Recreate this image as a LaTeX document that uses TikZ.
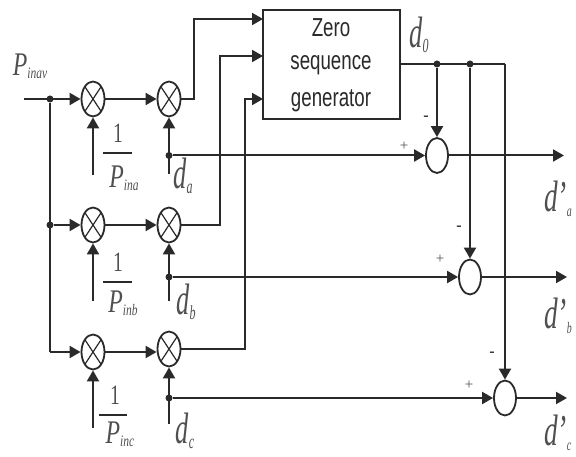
\documentclass[tikz,border=0pt]{standalone}
\usepackage{fontspec}
\setmainfont{Liberation Serif}
\newfontfamily\boxfont{Liberation Sans}
\usetikzlibrary{shapes.geometric,arrows.meta,calc}
\definecolor{ink}{HTML}{2A2A2A}
\definecolor{soft}{HTML}{505050}
\newcommand{\symb}[5]{\scalebox{#1}[1]{\fontsize{#2}{#2}\selectfont\itshape #3\raisebox{-.1em}{\fontsize{#4}{#4}\selectfont #5}}}
\tikzset{
  wire/.style={draw=ink,line width=2pt},
  arr/.style={wire,-{Triangle[length=11pt,width=12pt]}},
  mult/.style={ellipse,draw=ink,line width=1.8pt,minimum width=23pt,minimum height=35pt,inner sep=0pt,fill=white,
    path picture={\draw[ink,line width=1.2pt] (path picture bounding box.north west)--(path picture bounding box.south east)
      (path picture bounding box.north east)--(path picture bounding box.south west);}},
  summer/.style={ellipse,draw=ink,line width=1.8pt,minimum width=22pt,minimum height=35pt,inner sep=0pt,fill=white},
  dotn/.style={circle,fill=ink,inner sep=0pt,minimum size=7pt},
  lab/.style={inner sep=0pt,text=soft},
  blockbox/.style={draw=ink,line width=2pt,fill=white},
  boxtxt/.style={inner sep=0pt,text=ink,font=\boxfont},
  sign/.style={inner sep=0pt,text=soft,font=\fontsize{15}{15}\selectfont},
  minus/.style={inner sep=0pt,text=ink,font=\bfseries\fontsize{16}{16}\selectfont},
  barl/.style={draw=ink,line width=2pt}
}
\begin{document}
\begin{tikzpicture}[x=1pt,y=-1pt]
\useasboundingbox (0,0) rectangle (576,457);
% multipliers
\node[mult] (m1a) at (93,99) {};
\node[mult] (m2a) at (169,99) {};
\node[mult] (m1b) at (93,225) {};
\node[mult] (m2b) at (169,225) {};
\node[mult] (m1c) at (93,352) {};
\node[mult] (m2c) at (169,349) {};
% block
\node[blockbox,minimum width=137pt,minimum height=109pt,inner sep=0pt] (zero) at (331.5,64.5) {};
\node[boxtxt] (t1) at (331,28) {\scalebox{.72}[1]{\fontsize{26}{26}\selectfont Zero}};
\node[boxtxt] (t2) at (331,65) {\scalebox{.72}[1]{\fontsize{26}{26}\selectfont sequence}};
\node[boxtxt] (t3) at (331,101) {\scalebox{.72}[1]{\fontsize{26}{26}\selectfont generator}};
% summers
\node[summer] (sa) at (437,155.5) {};
\node[summer] (sb) at (470,277) {};
\node[summer] (sc) at (505,398) {};
% junctions and free ends
\coordinate (pin) at (24,99);
\node[dotn] (jp1) at (50,99) {};
\node[dotn] (jp2) at (50,225) {};
\coordinate (jp3) at (50,352);
\node[dotn] (jda) at (169,155.5) {};
\node[dotn] (jdb) at (169,277) {};
\node[dotn] (jdc) at (169,398) {};
\node[dotn] (j0a) at (437,64) {};
\node[dotn] (j0b) at (470,64) {};
\coordinate (j0c) at (505,64);
\coordinate (ia) at (93,175);
\coordinate (ib) at (93,301);
\coordinate (ic) at (93,428);
\coordinate (da) at (169,174);
\coordinate (db) at (169,301);
\coordinate (dc) at (169,424);
\coordinate (oa) at (564,155.5);
\coordinate (ob) at (567,277);
\coordinate (oc) at (567,398);
\coordinate (ta) at (263,19);
\coordinate (tb) at (263,56);
\coordinate (tc) at (263,99);
\coordinate (ra) at (194,99);
\coordinate (rb) at (220,225);
\coordinate (rc) at (245,349);
% connectors
\draw[arr] (pin) -- (m1a);
\draw[wire] (jp1) -- (jp3);
\draw[arr] (jp2) -- (m1b.west);
\draw[arr] (jp3) -- (m1c.west);
\draw[arr] (m1a) -- (m2a);
\draw[arr] (m1b) -- (m2b);
\draw[arr] (m1c.east) -- (m2c.west |- m1c.east);
\draw[arr] (ia) -- (m1a.south);
\draw[arr] (ib) -- (m1b.south);
\draw[arr] (ic) -- (m1c.south);
\draw[arr] (da) -- (m2a.south);
\draw[arr] (db) -- (m2b.south);
\draw[arr] (dc) -- (m2c.south);
\draw[arr] (m2a.east) -- (ra) -- (ra |- ta) -- (ta);
\draw[arr] (m2b.east) -- (rb) -- (rb |- tb) -- (tb);
\draw[arr] (m2c.east) -- (rc) -- (rc |- tc) -- (tc);
\draw[arr] (jda) -- (sa.west);
\draw[arr] (jdb) -- (sb.west);
\draw[arr] (jdc) -- (sc.west);
\draw[wire] (zero.east |- j0a) -- (j0c);
\draw[arr] (j0a) -- (sa.north);
\draw[arr] (j0b) -- (sb.north);
\draw[arr] (j0c) -- (sc.north);
\draw[arr] (sa.east) -- (oa);
\draw[arr] (sb.east) -- (ob);
\draw[arr] (sc.east) -- (oc);
% fractions
\node[lab] (n1a) at (118,133) {\scalebox{.7}[1]{\fontsize{28}{28}\selectfont 1}};
\node[lab] (n1b) at (118,262) {\scalebox{.7}[1]{\fontsize{28}{28}\selectfont 1}};
\node[lab] (n1c) at (115,395) {\scalebox{.7}[1]{\fontsize{28}{28}\selectfont 1}};
\coordinate (ba1) at (103,153); \coordinate (ba2) at (132,153);
\coordinate (bb1) at (103,282); \coordinate (bb2) at (132,282);
\coordinate (bc1) at (99,415); \coordinate (bc2) at (127,415);
\draw[barl] (ba1) -- (ba2);
\draw[barl] (bb1) -- (bb2);
\draw[barl] (bc1) -- (bc2);
\node[lab] (pia) at (124,178) {\symb{.72}{33}{P}{16}{ina}};
\node[lab] (pib) at (123,303) {\symb{.72}{33}{P}{16}{inb}};
\node[lab] (pic) at (120,434) {\symb{.72}{33}{P}{16}{inc}};
\node[lab] (pav) at (30,66) {\symb{.72}{33}{P}{16}{inav}};
% signal labels
\node[lab] (lda) at (183,176) {\symb{.6}{44}{d}{20}{a}};
\node[lab] (ldb) at (186,302) {\symb{.6}{44}{d}{20}{b}};
\node[lab] (ldc) at (185,431) {\symb{.6}{44}{d}{20}{c}};
\node[lab] (ld0) at (419,35) {\symb{.6}{44}{d}{20}{0}};
\node[lab,anchor=west] (lpa) at (544,199) {\symb{.62}{44}{d'}{16}{a}};
\node[lab,anchor=west] (lpb) at (544,316) {\symb{.62}{44}{d'}{16}{b}};
\node[lab,anchor=west] (lpc) at (544,433) {\symb{.62}{44}{d'}{16}{c}};
% signs
\node[sign] (pa) at (404,146) {+};
\node[sign] (pb) at (440,259) {+};
\node[sign] (pc) at (469,385) {+};
\node[minus] (ma) at (426,118) {-};
\node[minus] (mb) at (459,228) {-};
\node[minus] (mc) at (492,354) {-};
\end{tikzpicture}
\end{document}
